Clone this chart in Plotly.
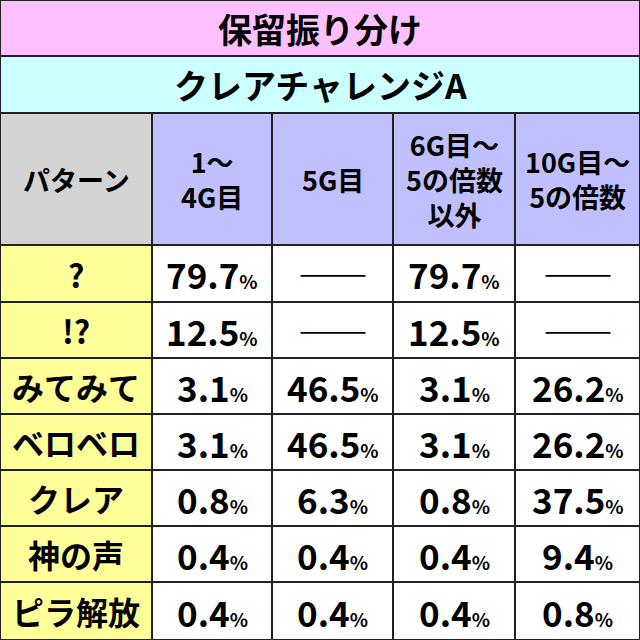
import plotly.graph_objects as go

title = "保留振り分け"
subtitle = "クレアチャレンジA"
columns = ["パターン", "1～<br>4G目", "5G目", "6G目～<br>5の倍数<br>以外", "10G目～<br>5の倍数"]
patterns = ["?", "!?", "みてみて", "ベロベロ", "クレア", "神の声", "ピラ解放"]
g1_4 = [79.7, 12.5, 3.1, 3.1, 0.8, 0.4, 0.4]
g5 = [None, None, 46.5, 46.5, 6.3, 0.4, 0.4]
g6 = [79.7, 12.5, 3.1, 3.1, 0.8, 0.4, 0.4]
g10 = [None, None, 26.2, 26.2, 37.5, 9.4, 0.8]

font = "Noto Sans CJK JP"
line = "#222222"

# 罫線の位置 (px)
col_x = [0, 152, 272, 393, 515, 640]
row_y = [0, 56, 113, 245, 302, 358, 414, 470, 526, 582, 640]


def fmt(v):
    if v is None:
        return "<b>――</b>"
    return f"<b>{v:.1f}<span style='font-size:19px'>%</span></b>"


fig = go.Figure()


def cell(x0, x1, y0, y1, color, text, size=27):
    fig.add_shape(type="rect", x0=x0, x1=x1, y0=y0, y1=y1, fillcolor=color,
                  line=dict(color=line, width=2), layer="below")
    fig.add_annotation(x=(x0 + x1) / 2, y=(y0 + y1) / 2, text=text, showarrow=False,
                       font=dict(family=font, size=size, color="black"))


cell(0, 640, row_y[0], row_y[1], "#ffc0ff", f"<b>{title}</b>", 34)
cell(0, 640, row_y[1], row_y[2], "#ccffff", f"<b>{subtitle}</b>", 34)

head_fill = ["#d3d3d3"] + ["#c0c0ff"] * 4
for j, c in enumerate(columns):
    cell(col_x[j], col_x[j + 1], row_y[2], row_y[3], head_fill[j], f"<b>{c}</b>", 27)

for i, p in enumerate(patterns):
    y0, y1 = row_y[3 + i], row_y[4 + i]
    cell(col_x[0], col_x[1], y0, y1, "#ffff99", f"<b>{p}</b>", 32)
    for j, vals in enumerate([g1_4, g5, g6, g10]):
        cell(col_x[j + 1], col_x[j + 2], y0, y1, "white", fmt(vals[i]), 35)

fig.update_xaxes(range=[0, 640], visible=False)
fig.update_yaxes(range=[640, 0], visible=False)
fig.update_layout(width=640, height=640, margin=dict(l=0, r=0, t=0, b=0),
                  paper_bgcolor="white", plot_bgcolor="white")
fig.write_html("out.html", config={"displayModeBar": False},
               post_script="document.body.style.margin='0';")
